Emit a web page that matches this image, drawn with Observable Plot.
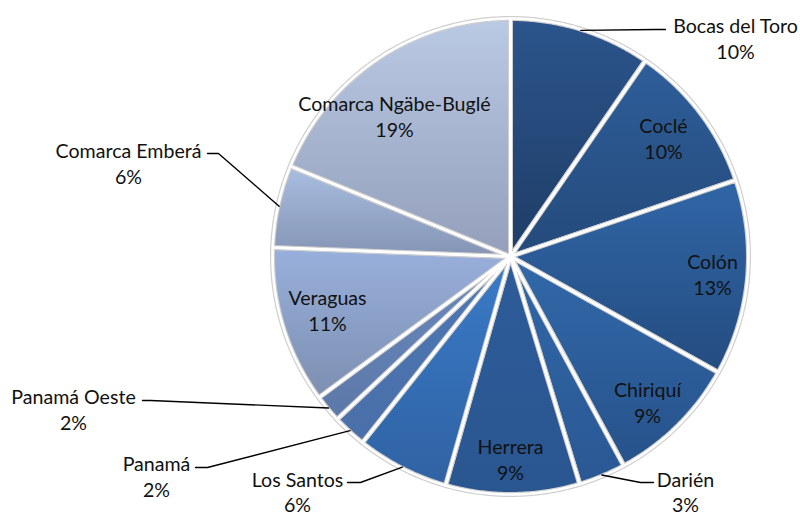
<!DOCTYPE html>
<html><head><meta charset="utf-8">
<script src="https://cdn.jsdelivr.net/npm/d3@7"></script>
<script src="https://cdn.jsdelivr.net/npm/@observablehq/plot@0.6"></script>
<style>body{margin:0;background:#fff;} #chart{width:800px;height:517px;}</style>
</head><body><div id="chart"></div>
<script>
// ---- data ----
const provinces = ["Bocas del Toro","Coclé","Colón","Chiriquí","Darién","Herrera","Los Santos","Panamá","Panamá Oeste","Veraguas","Comarca Emberá","Comarca Ngäbe-Buglé"];
const shares = [9.6, 10.2, 13.3, 9.0, 3.2, 9.1, 6.3, 2.3, 1.9, 10.7, 5.6, 18.8];
const pctLabels = ["10%","10%","13%","9%","3%","9%","6%","2%","2%","11%","6%","19%"];

// ---- styles / layout ----
const gradTop    = ["#2b558c","#2e5e9a","#3066a6","#3169aa","#3067a7","#2d5c99","#3a7bc8","#4d78b5","#6a89bf","#98b0dc","#a9bee2","#bac9e4"];
const gradBottom = ["#1f3d66","#244a7a","#244c80","#27528a","#2a5894","#2a5690","#2f62a3","#4a6fa8","#5c78a8","#7d8fb1","#8494b3","#939fbb"];
const W = 800, H = 517, cx = 510, cy = 256, R = 238;
// label centres (px) and leader elbows for outside labels
const labelPos = [
  {x:735,y:37, elbow:[[655,29],[665,29]]},
  {x:663,y:137},
  {x:712,y:273},
  {x:647,y:401},
  {x:685,y:491, lh:1.27, elbow:[[640,482],[653,482]]},
  {x:510,y:458},
  {x:297,y:491, lh:1.27, elbow:[[360,482],[347,482]]},
  {x:156,y:475, elbow:[[207,467],[195,467]]},
  {x:73, y:408, elbow:[[150,400],[142,400]]},
  {x:327,y:309},
  {x:128,y:162, elbow:[[218,153],[207,153]]},
  {x:394,y:115}
];

const arcs = d3.pie().sort(null).value(d => d)(shares);
const pt = (a, r) => [cx + r * Math.sin(a), cy - r * Math.cos(a)];

const slices = arcs.map((a, i) => {
  const pts = [{slice:i, px:cx, py:cy}];
  const n = Math.max(4, Math.ceil((a.endAngle - a.startAngle) / 0.008));
  for (let k = 0; k <= n; k++) {
    const ang = a.startAngle + (a.endAngle - a.startAngle) * k / n;
    const [x, y] = pt(ang, R);
    pts.push({slice:i, px:x, py:y});
  }
  pts.push({slice:i, px:cx, py:cy});
  return pts;
});

const leaders = [];
arcs.forEach((a, i) => {
  const lp = labelPos[i];
  if (!lp.elbow) return;
  const mid = (a.startAngle + a.endAngle) / 2;
  const [sx, sy] = pt(mid, R * 0.995);
  leaders.push({slice:i, px:sx, py:sy});
  lp.elbow.forEach(([x, y]) => leaders.push({slice:i, px:x, py:y}));
});

const labels = provinces.map((p, i) => ({name:p, pct:pctLabels[i], x:labelPos[i].x, y:labelPos[i].y, lh:labelPos[i].lh || 1.33}));
const lhGroups = d3.groups(labels, d => d.lh);

const marks = [];
slices.forEach((pts, i) => {
  marks.push(Plot.line(pts, {x:"px", y:"py", fill:`url(#g${i})`, stroke:"#cfcfcf", strokeWidth:5, strokeLinejoin:"round", curve:"linear"}));
});
marks.push(Plot.line(slices.flat(), {x:"px", y:"py", z:"slice", stroke:"#ffffff", strokeWidth:2.6, strokeLinejoin:"round", curve:"linear"}));
marks.push(Plot.line(leaders, {x:"px", y:"py", z:"slice", stroke:"#000", strokeWidth:1.4, curve:"linear"}));
lhGroups.forEach(([lh, rows]) => {
  marks.push(Plot.text(rows, {x:"x", y:"y", text:d => d.name + "\n" + d.pct, fontSize:19.6, fill:"#111", textAnchor:"middle", lineHeight:lh}));
});

const svg = Plot.plot({
  width: W, height: H,
  margin: 0,
  x: {domain:[0, W], range:[0, W], axis:null},
  y: {domain:[0, H], range:[0, H], axis:null},
  style: {fontFamily:"Lato, 'Noto Sans', sans-serif", background:"#fff"},
  marks
});

const defs = d3.select(svg).insert("defs", ":first-child");
gradTop.forEach((c, i) => {
  const g = defs.append("linearGradient").attr("id", `g${i}`).attr("x1",0).attr("y1",0).attr("x2",0).attr("y2",1);
  g.append("stop").attr("offset","0%").attr("stop-color", c);
  g.append("stop").attr("offset","100%").attr("stop-color", gradBottom[i]);
});

document.getElementById("chart").appendChild(svg);
</script>
</body></html>
